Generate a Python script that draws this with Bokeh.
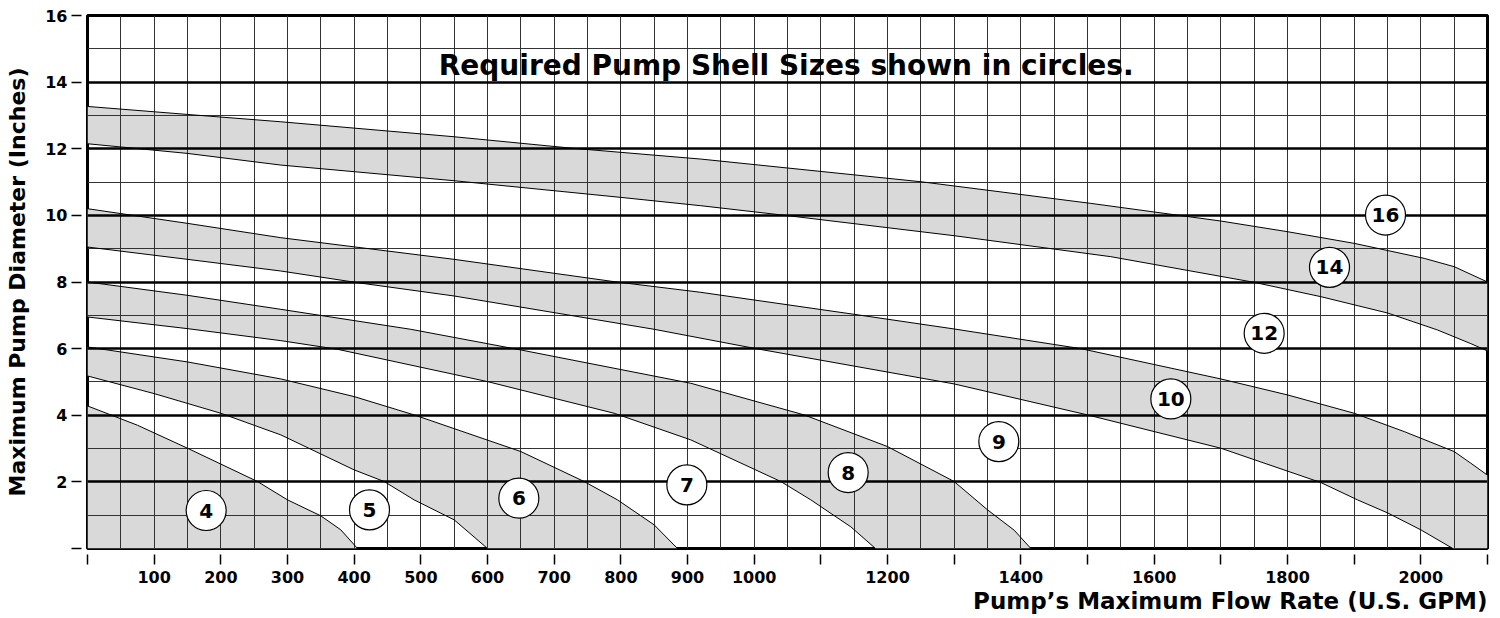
import numpy as np
from bokeh.plotting import figure
from bokeh.models import Range1d, FixedTicker, SingleIntervalTicker, Grid, Label, Title
from bokeh.embed import file_html
from bokeh.resources import INLINE
from bokeh.core.properties import value

FONT = "DejaVu Sans"

# ---- boundary curves: flow (GPM) -> max pump diameter (in) ----
c1_x = [0, 150, 290, 550, 730, 920, 1250, 1505, 1700, 1800, 1900, 2005, 2050, 2100]
c1_y = [13.27, 13.03, 12.81, 12.36, 12.01, 11.69, 11.01, 10.36, 9.83, 9.51, 9.16, 8.71, 8.46, 8.0]

c2_x = [0, 150, 290, 550, 800, 920, 1055, 1300, 1535, 1750, 1850, 1950, 2025, 2075, 2100]
c2_y = [12.15, 11.86, 11.51, 11.04, 10.54, 10.29, 9.98, 9.39, 8.76, 7.99, 7.56, 7.07, 6.56, 6.15, 5.93]

c3_x = [0, 150, 290, 550, 790, 920, 1000, 1150, 1300, 1490, 1700, 1800, 1900, 1975, 2050, 2075, 2100]
c3_y = [10.2, 9.76, 9.33, 8.68, 8.01, 7.69, 7.46, 7.03, 6.59, 6.0, 5.09, 4.61, 4.06, 3.51, 2.91, 2.56, 2.2]

c4_x = [0, 150, 290, 405, 550, 850, 1000, 1300, 1500, 1700, 1850, 1905, 1950, 2000, 2048]
c4_y = [9.05, 8.68, 8.33, 7.98, 7.58, 6.58, 6.01, 4.94, 4.01, 3.01, 1.98, 1.46, 1.07, 0.56, 0.0]

c5_x = [0, 150, 290, 485, 650, 905, 1075, 1200, 1300, 1350, 1390, 1415]
c5_y = [8.0, 7.6, 7.18, 6.58, 5.96, 4.96, 4.01, 3.06, 2.01, 1.16, 0.55, 0.0]

c6_x = [0, 150, 290, 375, 600, 790, 905, 1040, 1085, 1145, 1182]
c6_y = [6.95, 6.6, 6.24, 5.98, 5.01, 4.06, 3.26, 2.01, 1.46, 0.65, 0.0]

c7_x = [0, 150, 290, 400, 490, 650, 745, 795, 850, 885]
c7_y = [6.05, 5.6, 5.09, 4.56, 4.01, 2.91, 2.01, 1.46, 0.71, 0.0]

c8_x = [0, 100, 200, 290, 400, 445, 490, 550, 600]
c8_y = [5.18, 4.65, 4.06, 3.41, 2.36, 2.01, 1.46, 0.86, 0.0]

c9_x = [0, 75, 150, 255, 300, 350, 380, 405]
c9_y = [4.28, 3.7, 3.01, 2.01, 1.46, 0.98, 0.56, 0.0]

# ---- shell size circles ----
shell_labels = ["4", "5", "6", "7", "8", "9", "10", "12", "14", "16"]
shell_x = [178, 423, 647, 899, 1141, 1367, 1625, 1765, 1863, 1947]
shell_y = [1.14, 1.16, 1.51, 1.91, 2.28, 3.21, 4.49, 6.46, 8.44, 10.01]

# ---- axes ----
X_MIN, X_MAX = 0, 2100
Y_MIN, Y_MAX = 0, 16
x_tick_values = list(range(0, 2101, 100))
x_tick_labels = ["", "100", "200", "300", "400", "500", "600", "700", "800", "900",
                 "1000", "", "1200", "", "1400", "", "1600", "", "1800", "", "2000", ""]
y_tick_values = [0, 2, 4, 6, 8, 10, 12, 14, 16]
y_tick_labels = ["", "2", "4", "6", "8", "10", "12", "14", "16"]

title_text = "Required Pump Shell Sizes shown in circles."
x_title = "Pump\u2019s Maximum Flow Rate (U.S. GPM)"
y_title = "Maximum Pump Diameter (Inches)"

p = figure(frame_width=1400, frame_height=533,
           x_range=Range1d(X_MIN, X_MAX), y_range=Range1d(Y_MIN, Y_MAX),
           output_backend="svg", toolbar_location=None,
           min_border_left=87, min_border_top=15, min_border_right=5, min_border_bottom=0,
           background_fill_color="white", border_fill_color="white")

p.outline_line_color = "black"
p.outline_line_width = 3

# bands (shaded)
band_xs = [
    c1_x + c2_x[::-1],
    c3_x + [X_MAX] + c4_x[::-1],
    c5_x + c6_x[::-1],
    c7_x + c8_x[::-1],
    c9_x + [X_MIN],
]
band_ys = [
    c1_y + c2_y[::-1],
    c3_y + [Y_MIN] + c4_y[::-1],
    c5_y + c6_y[::-1],
    c7_y + c8_y[::-1],
    c9_y + [Y_MIN],
]
bands = p.patches(band_xs, band_ys, fill_color="#d9d9d9", line_color=None)
bands.level = "underlay"

# grids
p.xgrid.ticker = SingleIntervalTicker(interval=50, num_minor_ticks=0)
p.xgrid.grid_line_color = "#333333"
p.xgrid.grid_line_width = 1
p.xgrid.level = "glyph"
p.ygrid.ticker = SingleIntervalTicker(interval=1, num_minor_ticks=0)
p.ygrid.grid_line_color = "#333333"
p.ygrid.grid_line_width = 1
p.ygrid.level = "glyph"
g2 = Grid(dimension=1, ticker=SingleIntervalTicker(interval=2, num_minor_ticks=0),
          grid_line_color="black", grid_line_width=2.6)
g2.level = "glyph"
p.add_layout(g2, "center")

# curves
curves = p.multi_line([c1_x, c2_x, c3_x, c4_x, c5_x, c6_x, c7_x, c8_x, c9_x],
                      [c1_y, c2_y, c3_y, c4_y, c5_y, c6_y, c7_y, c8_y, c9_y],
                      line_color="black", line_width=1, line_join="round")
curves.level = "annotation"

# circles with shell sizes
circ = p.scatter(shell_x, shell_y, size=40, marker="circle", fill_color="white",
                 line_color="black", line_width=1.2)
circ.level = "overlay"
txt = p.text(shell_x, shell_y, text=shell_labels, text_font=value(FONT),
             text_font_style="bold", text_font_size="20px", text_align="center",
             text_baseline="middle", text_color="black")
txt.level = "overlay"

p.add_layout(Label(x=1048, y=14.49, text=title_text, text_font=FONT, text_font_style="bold",
                   text_font_size="28px", text_align="center", text_baseline="middle",
                   text_color="black"))

# axes styling
for ax in (p.xaxis[0], p.yaxis[0]):
    ax.axis_line_color = None
    ax.major_tick_line_color = "black"
    ax.major_tick_line_width = 1.5
    ax.minor_tick_line_color = None
    ax.major_tick_in = -6
    ax.major_tick_out = 16
    ax.major_label_text_font = FONT
    ax.major_label_text_font_style = "bold"
    ax.major_label_text_font_size = "16px"
    ax.major_label_text_color = "black"

p.xaxis.ticker = FixedTicker(ticks=x_tick_values)
p.xaxis.major_label_overrides = {v: l for v, l in zip(x_tick_values, x_tick_labels)}
p.xaxis.major_label_standoff = 6
p.yaxis.ticker = FixedTicker(ticks=y_tick_values)
p.yaxis.major_label_overrides = {v: l for v, l in zip(y_tick_values, y_tick_labels)}
p.yaxis.major_label_standoff = 4

p.yaxis.axis_label = y_title
p.yaxis.axis_label_text_font = FONT
p.yaxis.axis_label_text_font_style = "bold"
p.yaxis.axis_label_text_font_size = "22px"
p.yaxis.axis_label_text_color = "black"
p.yaxis.axis_label_standoff = 12

p.add_layout(Title(text=x_title, align="right", text_font=FONT, text_font_style="bold",
                   text_font_size="23px", text_color="black", standoff=1), "below")

open("out.html", "w").write(file_html(p, INLINE))
